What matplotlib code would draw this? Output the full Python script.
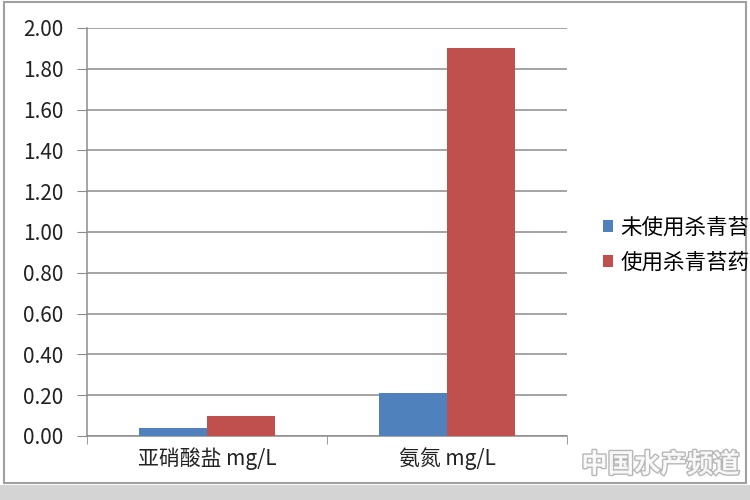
import matplotlib.pyplot as plt
import matplotlib.patheffects as pe
import numpy as np
from matplotlib.patches import Rectangle

plt.rcParams['font.family'] = ['Noto Sans CJK SC', 'DejaVu Sans']

categories = ['亚硝酸盐 mg/L', '氨氮 mg/L']
series_names = ['未使用杀青苔药', '使用杀青苔药']
no_drug = [0.04, 0.21]
with_drug = [0.10, 1.90]
yticks = np.arange(0, 2.01, 0.2)

fig = plt.figure(figsize=(7.5, 5), dpi=100)
ax = fig.add_axes([0.116, 0.128, 0.64, 0.816])

x = np.arange(len(categories))
w = 0.283
ax.bar(x - w/2, no_drug, w, color='#4F81BD', label=series_names[0], zorder=3)
ax.bar(x + w/2, with_drug, w, color='#C0504D', label=series_names[1], zorder=3)

ax.set_xlim(-0.5, 1.5)
ax.set_ylim(0, 2.0)
ax.set_yticks(yticks)
ax.set_yticklabels(['%.2f' % v for v in yticks], fontsize=15, color='#222222')
ax.yaxis.grid(True, color='#8c8c8c', linewidth=1.1, zorder=0)
ax.set_xticks(x)
ax.set_xticklabels(categories, fontsize=15, color='#222222')
ax.set_xticks([-0.5, 0.5, 1.5], minor=True)
ax.tick_params(axis='x', which='major', length=0, pad=8)
ax.tick_params(axis='x', which='minor', length=6, color='#8c8c8c', direction='out')
ax.tick_params(axis='y', length=7, color='#8c8c8c', pad=10)
for s in ['top', 'right']:
    ax.spines[s].set_visible(False)
ax.spines['left'].set_color('#8c8c8c')
ax.spines['bottom'].set_color('#8c8c8c')
ax.spines['left'].set_linewidth(1.1)
ax.spines['bottom'].set_linewidth(1.1)

fig.legend(loc='upper left', bbox_to_anchor=(0.778, 0.605), frameon=False,
           fontsize=15.5, handlelength=0.45, handleheight=0.45, handletextpad=0.35,
           labelspacing=0.6)

# outer frame and bottom band
fig.patches.append(Rectangle((0.005, 0.035), 0.99, 0.962, transform=fig.transFigure,
                             fill=False, edgecolor='#a0a0a0', linewidth=1.5))
fig.patches.append(Rectangle((0, 0), 1, 0.03, transform=fig.transFigure,
                             facecolor='#d4d4d4', edgecolor='none'))

# watermark
fig.text(0.775, 0.055, '中国水产频道', fontsize=19, color='white', alpha=0.9,
         fontweight='bold',
         path_effects=[pe.withStroke(linewidth=2, foreground='#b0b0b0')])

plt.savefig('out.png', dpi=100)
